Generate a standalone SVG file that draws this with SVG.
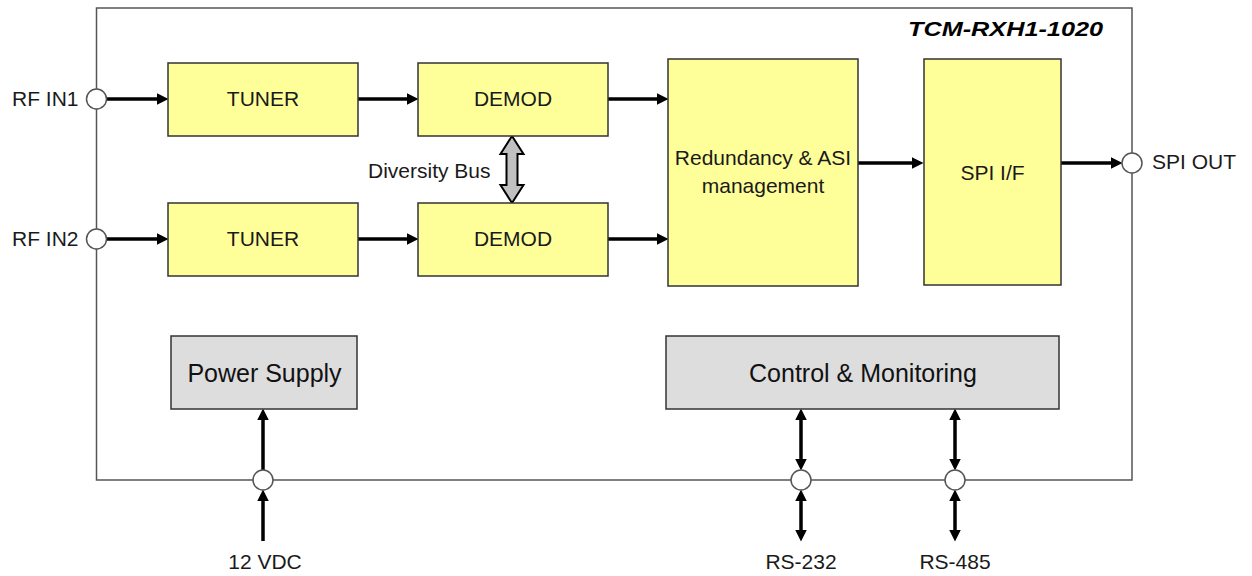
<svg xmlns="http://www.w3.org/2000/svg" width="1252" height="576" viewBox="0 0 1252 576">
<style>
text{font-family:"Liberation Sans",Arial,sans-serif;font-size:21px;fill:#1a1a1a}
.c{text-anchor:middle}
.blk{fill:#ffff99;stroke:#333;stroke-width:1.5}
.gry{fill:#dddddd;stroke:#333;stroke-width:1.5}
.big{font-size:25px;fill:#111}
.port{fill:#fff;stroke:#555;stroke-width:1.5}
.ar{fill:none;stroke:#000;stroke-width:3.5}
.one{marker-end:url(#ah)}
.two{marker-start:url(#ah);marker-end:url(#ah)}
</style>
<defs>
<marker id="ah" markerUnits="userSpaceOnUse" markerWidth="12" markerHeight="12" refX="5" refY="5.5" orient="auto-start-reverse" viewBox="0 0 11 11">
<path d="M0,0 L11,5.5 L0,11 z" fill="#000"/>
</marker>
</defs>
<rect width="1252" height="576" fill="#fff"/>
<g id="frame">
<rect x="96.5" y="8" width="1035.5" height="472" fill="none" stroke="#555" stroke-width="1.5"/>
<text x="908" y="36" style="font-weight:bold;font-style:italic;font-size:20px;fill:#000" textLength="195" lengthAdjust="spacingAndGlyphs">TCM-RXH1-1020</text>
</g>
<g id="connectors">
<path class="ar one" d="M107,99 H162"/>
<path class="ar one" d="M107,239 H162"/>
<path class="ar one" d="M358,99 H412"/>
<path class="ar one" d="M358,239 H412"/>
<path class="ar one" d="M608,99 H662"/>
<path class="ar one" d="M608,239 H662"/>
<path class="ar one" d="M858,163 H917"/>
<path class="ar one" d="M1061,163 H1116"/>
<path class="ar one" d="M263,470 V415"/>
<path class="ar one" d="M263,541 V496"/>
<path class="ar two" d="M801,415 V464"/>
<path class="ar two" d="M801,496 V535"/>
<path class="ar two" d="M955,415 V464"/>
<path class="ar two" d="M955,496 V535"/>
<polygon id="diversity-bus-arrow" points="512,136 523.5,154 517.5,154 517.5,185 523.5,185 512,203 500.5,185 506.5,185 506.5,154 500.5,154" fill="#c0c0c0" stroke="#000" stroke-width="2" stroke-linejoin="miter"/>
<text x="368" y="178">Diversity Bus</text>
</g>
<g id="rf-in1"><circle class="port" cx="96.5" cy="99" r="10"/><text x="12" y="106">RF IN1</text></g>
<g id="rf-in2"><circle class="port" cx="96.5" cy="239" r="10"/><text x="12" y="246">RF IN2</text></g>
<g id="spi-out"><circle class="port" cx="1132" cy="163" r="10"/><text x="1152" y="169">SPI OUT</text></g>
<g id="vdc"><circle class="port" cx="263" cy="480" r="10"/><text class="c" x="265" y="569">12 VDC</text></g>
<g id="rs232"><circle class="port" cx="801" cy="480" r="10"/><text class="c" x="801" y="569">RS-232</text></g>
<g id="rs485"><circle class="port" cx="955" cy="480" r="10"/><text class="c" x="955" y="569">RS-485</text></g>
<g id="tuner1"><rect class="blk" x="168" y="63" width="190" height="73"/><text class="c" x="263" y="106">TUNER</text></g>
<g id="tuner2"><rect class="blk" x="168" y="203" width="190" height="73"/><text class="c" x="263" y="246">TUNER</text></g>
<g id="demod1"><rect class="blk" x="418" y="63" width="190" height="73"/><text class="c" x="513" y="106">DEMOD</text></g>
<g id="demod2"><rect class="blk" x="418" y="203" width="190" height="73"/><text class="c" x="513" y="246">DEMOD</text></g>
<g id="redundancy"><rect class="blk" x="668" y="59" width="190" height="227"/><text class="c" x="763" y="165">Redundancy &amp; ASI</text><text class="c" x="763" y="193">management</text></g>
<g id="spi-if"><rect class="blk" x="924" y="59" width="137" height="226"/><text class="c" x="992.5" y="180">SPI I/F</text></g>
<g id="power-supply"><rect class="gry" x="171" y="336" width="186" height="73"/><text class="c big" x="264.5" y="382">Power Supply</text></g>
<g id="control-monitoring"><rect class="gry" x="666" y="336" width="393" height="73"/><text class="c big" x="863" y="382">Control &amp; Monitoring</text></g>
</svg>
